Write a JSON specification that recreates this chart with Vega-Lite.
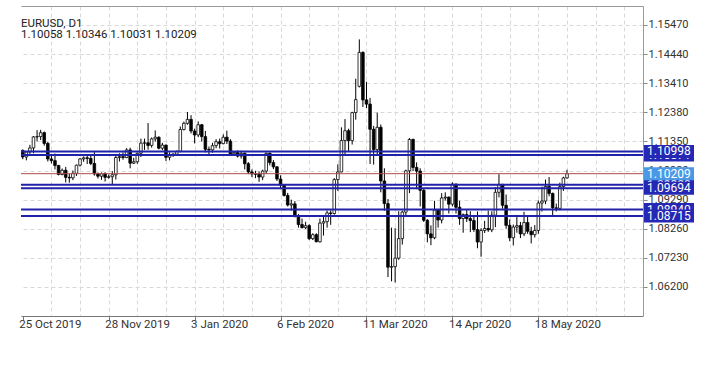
{
  "$schema": "https://vega.github.io/schema/vega-lite/v6.json",
  "width": 622,
  "height": 310,
  "autosize": {"type": "none"},
  "padding": {"left": 21, "top": 6, "right": 59, "bottom": 56},
  "background": "#ffffff",
  "config": {"view": {"stroke": null}, "axis": {"labelFont": "Roboto", "title": null}},
  "title": {
    "text": "EURUSD, D1",
    "subtitle": "1.10058 1.10346 1.10031 1.10209",
    "anchor": "start",
    "frame": "group",
    "orient": "top",
    "offset": -34,
    "font": "Roboto",
    "fontSize": 11.5,
    "fontWeight": "normal",
    "color": "#222222",
    "subtitleFont": "Roboto",
    "subtitleFontSize": 11.5,
    "subtitleColor": "#222222",
    "subtitlePadding": -1
  },
  "data": {"values": [
    {"i":0,"d":"2019-10-25","o":1.1103,"h":1.1107,"l":1.1072,"c":1.1080},
    {"i":1,"d":"2019-10-28","o":1.1080,"h":1.1101,"l":1.1068,"c":1.1098},
    {"i":2,"d":"2019-10-29","o":1.1098,"h":1.1123,"l":1.1091,"c":1.1112},
    {"i":3,"d":"2019-10-30","o":1.1112,"h":1.1154,"l":1.1093,"c":1.1151},
    {"i":4,"d":"2019-10-31","o":1.1151,"h":1.1175,"l":1.1135,"c":1.1152},
    {"i":5,"d":"2019-11-01","o":1.1152,"h":1.1176,"l":1.1140,"c":1.1166},
    {"i":6,"d":"2019-11-04","o":1.1166,"h":1.1170,"l":1.1120,"c":1.1128},
    {"i":7,"d":"2019-11-05","o":1.1128,"h":1.1133,"l":1.1064,"c":1.1073},
    {"i":8,"d":"2019-11-06","o":1.1073,"h":1.1089,"l":1.1057,"c":1.1067},
    {"i":9,"d":"2019-11-07","o":1.1067,"h":1.1092,"l":1.1036,"c":1.1050},
    {"i":10,"d":"2019-11-08","o":1.1050,"h":1.1052,"l":1.1015,"c":1.1018},
    {"i":11,"d":"2019-11-11","o":1.1018,"h":1.1039,"l":1.1015,"c":1.1033},
    {"i":12,"d":"2019-11-12","o":1.1033,"h":1.1045,"l":1.0990,"c":1.1008},
    {"i":13,"d":"2019-11-13","o":1.1008,"h":1.1020,"l":1.0989,"c":1.1006},
    {"i":14,"d":"2019-11-14","o":1.1006,"h":1.1032,"l":1.0998,"c":1.1022},
    {"i":15,"d":"2019-11-15","o":1.1022,"h":1.1053,"l":1.1013,"c":1.1051},
    {"i":16,"d":"2019-11-18","o":1.1051,"h":1.1076,"l":1.1046,"c":1.1073},
    {"i":17,"d":"2019-11-19","o":1.1073,"h":1.1082,"l":1.1063,"c":1.1077},
    {"i":18,"d":"2019-11-20","o":1.1077,"h":1.1090,"l":1.1055,"c":1.1075},
    {"i":19,"d":"2019-11-21","o":1.1075,"h":1.1085,"l":1.1051,"c":1.1057},
    {"i":20,"d":"2019-11-22","o":1.1057,"h":1.1097,"l":1.1014,"c":1.1020},
    {"i":21,"d":"2019-11-25","o":1.1020,"h":1.1025,"l":1.1004,"c":1.1012},
    {"i":22,"d":"2019-11-26","o":1.1012,"h":1.1025,"l":1.0999,"c":1.1021},
    {"i":23,"d":"2019-11-27","o":1.1021,"h":1.1026,"l":1.0993,"c":1.1008},
    {"i":24,"d":"2019-11-28","o":1.1008,"h":1.1018,"l":1.1003,"c":1.1010},
    {"i":25,"d":"2019-11-29","o":1.1010,"h":1.1030,"l":1.0981,"c":1.1017},
    {"i":26,"d":"2019-12-02","o":1.1017,"h":1.1090,"l":1.1000,"c":1.1078},
    {"i":27,"d":"2019-12-03","o":1.1078,"h":1.1093,"l":1.1064,"c":1.1081},
    {"i":28,"d":"2019-12-04","o":1.1081,"h":1.1096,"l":1.1070,"c":1.1078},
    {"i":29,"d":"2019-12-05","o":1.1078,"h":1.1111,"l":1.1076,"c":1.1105},
    {"i":30,"d":"2019-12-06","o":1.1105,"h":1.1113,"l":1.1040,"c":1.1058},
    {"i":31,"d":"2019-12-09","o":1.1058,"h":1.1077,"l":1.1055,"c":1.1063},
    {"i":32,"d":"2019-12-10","o":1.1063,"h":1.1096,"l":1.1056,"c":1.1093},
    {"i":33,"d":"2019-12-11","o":1.1093,"h":1.1145,"l":1.1080,"c":1.1129},
    {"i":34,"d":"2019-12-12","o":1.1129,"h":1.1145,"l":1.1105,"c":1.1130},
    {"i":35,"d":"2019-12-13","o":1.1130,"h":1.1200,"l":1.1106,"c":1.1121},
    {"i":36,"d":"2019-12-16","o":1.1121,"h":1.1149,"l":1.1113,"c":1.1144},
    {"i":37,"d":"2019-12-17","o":1.1144,"h":1.1174,"l":1.1134,"c":1.1150},
    {"i":38,"d":"2019-12-18","o":1.1150,"h":1.1153,"l":1.1107,"c":1.1111},
    {"i":39,"d":"2019-12-19","o":1.1111,"h":1.1130,"l":1.1104,"c":1.1122},
    {"i":40,"d":"2019-12-20","o":1.1122,"h":1.1124,"l":1.1066,"c":1.1079},
    {"i":41,"d":"2019-12-23","o":1.1079,"h":1.1096,"l":1.1068,"c":1.1089},
    {"i":42,"d":"2019-12-24","o":1.1089,"h":1.1093,"l":1.1080,"c":1.1090},
    {"i":43,"d":"2019-12-26","o":1.1090,"h":1.1103,"l":1.1086,"c":1.1100},
    {"i":44,"d":"2019-12-27","o":1.1100,"h":1.1188,"l":1.1096,"c":1.1177},
    {"i":45,"d":"2019-12-30","o":1.1177,"h":1.1205,"l":1.1174,"c":1.1199},
    {"i":46,"d":"2019-12-31","o":1.1199,"h":1.1239,"l":1.1194,"c":1.1213},
    {"i":47,"d":"2020-01-02","o":1.1213,"h":1.1228,"l":1.1163,"c":1.1172},
    {"i":48,"d":"2020-01-03","o":1.1172,"h":1.1180,"l":1.1128,"c":1.1158},
    {"i":49,"d":"2020-01-06","o":1.1158,"h":1.1206,"l":1.1150,"c":1.1194},
    {"i":50,"d":"2020-01-07","o":1.1194,"h":1.1197,"l":1.1135,"c":1.1152},
    {"i":51,"d":"2020-01-08","o":1.1152,"h":1.1172,"l":1.1096,"c":1.1107},
    {"i":52,"d":"2020-01-09","o":1.1107,"h":1.1117,"l":1.1088,"c":1.1105},
    {"i":53,"d":"2020-01-10","o":1.1105,"h":1.1130,"l":1.1095,"c":1.1120},
    {"i":54,"d":"2020-01-13","o":1.1120,"h":1.1143,"l":1.1111,"c":1.1134},
    {"i":55,"d":"2020-01-14","o":1.1134,"h":1.1145,"l":1.1110,"c":1.1127},
    {"i":56,"d":"2020-01-15","o":1.1127,"h":1.1160,"l":1.1125,"c":1.1150},
    {"i":57,"d":"2020-01-16","o":1.1150,"h":1.1173,"l":1.1126,"c":1.1136},
    {"i":58,"d":"2020-01-17","o":1.1136,"h":1.1143,"l":1.1085,"c":1.1091},
    {"i":59,"d":"2020-01-20","o":1.1091,"h":1.1100,"l":1.1088,"c":1.1096},
    {"i":60,"d":"2020-01-21","o":1.1096,"h":1.1103,"l":1.1078,"c":1.1083},
    {"i":61,"d":"2020-01-22","o":1.1083,"h":1.1102,"l":1.1074,"c":1.1093},
    {"i":62,"d":"2020-01-23","o":1.1093,"h":1.1096,"l":1.1036,"c":1.1056},
    {"i":63,"d":"2020-01-24","o":1.1056,"h":1.1062,"l":1.1019,"c":1.1027},
    {"i":64,"d":"2020-01-27","o":1.1027,"h":1.1036,"l":1.1009,"c":1.1020},
    {"i":65,"d":"2020-01-28","o":1.1020,"h":1.1031,"l":1.1005,"c":1.1019},
    {"i":66,"d":"2020-01-29","o":1.1019,"h":1.1029,"l":1.0992,"c":1.1009},
    {"i":67,"d":"2020-01-30","o":1.1009,"h":1.1035,"l":1.0998,"c":1.1030},
    {"i":68,"d":"2020-01-31","o":1.1030,"h":1.1096,"l":1.1020,"c":1.1093},
    {"i":69,"d":"2020-02-03","o":1.1093,"h":1.1096,"l":1.1050,"c":1.1060},
    {"i":70,"d":"2020-02-04","o":1.1060,"h":1.1069,"l":1.1037,"c":1.1045},
    {"i":71,"d":"2020-02-05","o":1.1045,"h":1.1047,"l":1.0995,"c":1.1002},
    {"i":72,"d":"2020-02-06","o":1.1002,"h":1.1015,"l":1.0966,"c":1.0980},
    {"i":73,"d":"2020-02-07","o":1.0980,"h":1.0982,"l":1.0940,"c":1.0944},
    {"i":74,"d":"2020-02-10","o":1.0944,"h":1.0953,"l":1.0905,"c":1.0910},
    {"i":75,"d":"2020-02-11","o":1.0910,"h":1.0929,"l":1.0890,"c":1.0914},
    {"i":76,"d":"2020-02-12","o":1.0914,"h":1.0924,"l":1.0866,"c":1.0873},
    {"i":77,"d":"2020-02-13","o":1.0873,"h":1.0878,"l":1.0830,"c":1.0841},
    {"i":78,"d":"2020-02-14","o":1.0841,"h":1.0862,"l":1.0827,"c":1.0830},
    {"i":79,"d":"2020-02-17","o":1.0830,"h":1.0851,"l":1.0825,"c":1.0837},
    {"i":80,"d":"2020-02-18","o":1.0837,"h":1.0842,"l":1.0786,"c":1.0791},
    {"i":81,"d":"2020-02-19","o":1.0791,"h":1.0810,"l":1.0786,"c":1.0805},
    {"i":82,"d":"2020-02-20","o":1.0805,"h":1.0810,"l":1.0778,"c":1.0780},
    {"i":83,"d":"2020-02-21","o":1.0780,"h":1.0862,"l":1.0777,"c":1.0846},
    {"i":84,"d":"2020-02-24","o":1.0846,"h":1.0871,"l":1.0802,"c":1.0851},
    {"i":85,"d":"2020-02-25","o":1.0851,"h":1.0890,"l":1.0830,"c":1.0882},
    {"i":86,"d":"2020-02-26","o":1.0882,"h":1.0891,"l":1.0840,"c":1.0880},
    {"i":87,"d":"2020-02-27","o":1.0880,"h":1.1005,"l":1.0876,"c":1.1000},
    {"i":88,"d":"2020-02-28","o":1.1000,"h":1.1054,"l":1.0960,"c":1.1027},
    {"i":89,"d":"2020-03-02","o":1.1027,"h":1.1185,"l":1.1026,"c":1.1138},
    {"i":90,"d":"2020-03-03","o":1.1138,"h":1.1214,"l":1.1087,"c":1.1173},
    {"i":91,"d":"2020-03-04","o":1.1173,"h":1.1180,"l":1.1100,"c":1.1138},
    {"i":92,"d":"2020-03-05","o":1.1138,"h":1.1240,"l":1.1124,"c":1.1237},
    {"i":93,"d":"2020-03-06","o":1.1237,"h":1.1357,"l":1.1212,"c":1.1283},
    {"i":94,"d":"2020-03-09","o":1.1330,"h":1.1496,"l":1.1326,"c":1.1450},
    {"i":95,"d":"2020-03-10","o":1.1450,"h":1.1454,"l":1.1257,"c":1.1282},
    {"i":96,"d":"2020-03-11","o":1.1282,"h":1.1346,"l":1.1253,"c":1.1267},
    {"i":97,"d":"2020-03-12","o":1.1267,"h":1.1289,"l":1.1055,"c":1.1178},
    {"i":98,"d":"2020-03-13","o":1.1178,"h":1.1190,"l":1.1053,"c":1.1106},
    {"i":99,"d":"2020-03-16","o":1.1106,"h":1.1237,"l":1.1090,"c":1.1185},
    {"i":100,"d":"2020-03-17","o":1.1185,"h":1.1195,"l":1.0955,"c":1.0995},
    {"i":101,"d":"2020-03-18","o":1.0995,"h":1.1040,"l":1.0890,"c":1.0915},
    {"i":102,"d":"2020-03-19","o":1.0915,"h":1.0931,"l":1.0655,"c":1.0690},
    {"i":103,"d":"2020-03-20","o":1.0690,"h":1.0830,"l":1.0640,"c":1.0692},
    {"i":104,"d":"2020-03-23","o":1.0692,"h":1.0828,"l":1.0636,"c":1.0722},
    {"i":105,"d":"2020-03-24","o":1.0722,"h":1.0888,"l":1.0716,"c":1.0791},
    {"i":106,"d":"2020-03-25","o":1.0791,"h":1.0890,"l":1.0770,"c":1.0885},
    {"i":107,"d":"2020-03-26","o":1.0885,"h":1.1035,"l":1.0870,"c":1.1031},
    {"i":108,"d":"2020-03-27","o":1.1031,"h":1.1147,"l":1.0952,"c":1.1142},
    {"i":109,"d":"2020-03-30","o":1.1142,"h":1.1145,"l":1.1030,"c":1.1043},
    {"i":110,"d":"2020-03-31","o":1.1043,"h":1.1061,"l":1.0966,"c":1.1030},
    {"i":111,"d":"2020-04-01","o":1.1030,"h":1.1040,"l":1.0905,"c":1.0962},
    {"i":112,"d":"2020-04-02","o":1.0962,"h":1.0970,"l":1.0850,"c":1.0856},
    {"i":113,"d":"2020-04-03","o":1.0856,"h":1.0860,"l":1.0778,"c":1.0808},
    {"i":114,"d":"2020-04-06","o":1.0808,"h":1.0838,"l":1.0768,"c":1.0794},
    {"i":115,"d":"2020-04-07","o":1.0794,"h":1.0925,"l":1.0789,"c":1.0892},
    {"i":116,"d":"2020-04-08","o":1.0892,"h":1.0894,"l":1.0830,"c":1.0857},
    {"i":117,"d":"2020-04-09","o":1.0857,"h":1.0952,"l":1.0845,"c":1.0935},
    {"i":118,"d":"2020-04-10","o":1.0935,"h":1.0955,"l":1.0926,"c":1.0938},
    {"i":119,"d":"2020-04-13","o":1.0938,"h":1.0940,"l":1.0880,"c":1.0913},
    {"i":120,"d":"2020-04-14","o":1.0913,"h":1.0990,"l":1.0905,"c":1.0984},
    {"i":121,"d":"2020-04-15","o":1.0984,"h":1.0986,"l":1.0880,"c":1.0902},
    {"i":122,"d":"2020-04-16","o":1.0902,"h":1.0925,"l":1.0840,"c":1.0862},
    {"i":123,"d":"2020-04-17","o":1.0862,"h":1.0880,"l":1.0812,"c":1.0876},
    {"i":124,"d":"2020-04-20","o":1.0876,"h":1.0892,"l":1.0850,"c":1.0862},
    {"i":125,"d":"2020-04-21","o":1.0862,"h":1.0888,"l":1.0814,"c":1.0855},
    {"i":126,"d":"2020-04-22","o":1.0855,"h":1.0871,"l":1.0815,"c":1.0823},
    {"i":127,"d":"2020-04-23","o":1.0823,"h":1.0887,"l":1.0757,"c":1.0779},
    {"i":128,"d":"2020-04-24","o":1.0779,"h":1.0828,"l":1.0727,"c":1.0820},
    {"i":129,"d":"2020-04-27","o":1.0820,"h":1.0854,"l":1.0811,"c":1.0827},
    {"i":130,"d":"2020-04-28","o":1.0827,"h":1.0890,"l":1.0815,"c":1.0822},
    {"i":131,"d":"2020-04-29","o":1.0822,"h":1.0888,"l":1.0814,"c":1.0874},
    {"i":132,"d":"2020-04-30","o":1.0874,"h":1.0973,"l":1.0832,"c":1.0955},
    {"i":133,"d":"2020-05-01","o":1.0955,"h":1.1019,"l":1.0937,"c":1.0983},
    {"i":134,"d":"2020-05-04","o":1.0983,"h":1.0985,"l":1.0897,"c":1.0909},
    {"i":135,"d":"2020-05-05","o":1.0909,"h":1.0947,"l":1.0826,"c":1.0838},
    {"i":136,"d":"2020-05-06","o":1.0838,"h":1.0859,"l":1.0782,"c":1.0794},
    {"i":137,"d":"2020-05-07","o":1.0794,"h":1.0841,"l":1.0767,"c":1.0832},
    {"i":138,"d":"2020-05-08","o":1.0832,"h":1.0875,"l":1.0812,"c":1.0837},
    {"i":139,"d":"2020-05-11","o":1.0837,"h":1.0850,"l":1.0793,"c":1.0808},
    {"i":140,"d":"2020-05-12","o":1.0808,"h":1.0886,"l":1.0800,"c":1.0848},
    {"i":141,"d":"2020-05-13","o":1.0848,"h":1.0869,"l":1.0808,"c":1.0817},
    {"i":142,"d":"2020-05-14","o":1.0817,"h":1.0833,"l":1.0774,"c":1.0805},
    {"i":143,"d":"2020-05-15","o":1.0805,"h":1.0839,"l":1.0795,"c":1.0820},
    {"i":144,"d":"2020-05-18","o":1.0820,"h":1.0926,"l":1.0808,"c":1.0917},
    {"i":145,"d":"2020-05-19","o":1.0917,"h":1.0975,"l":1.0887,"c":1.0924},
    {"i":146,"d":"2020-05-20","o":1.0924,"h":1.1000,"l":1.0913,"c":1.0976},
    {"i":147,"d":"2020-05-21","o":1.0976,"h":1.1009,"l":1.0941,"c":1.0951},
    {"i":148,"d":"2020-05-22","o":1.0951,"h":1.0954,"l":1.0871,"c":1.0900},
    {"i":149,"d":"2020-05-25","o":1.0900,"h":1.0915,"l":1.0887,"c":1.0898},
    {"i":150,"d":"2020-05-26","o":1.0898,"h":1.0989,"l":1.0891,"c":1.0975},
    {"i":151,"d":"2020-05-27","o":1.0975,"h":1.1010,"l":1.0960,"c":1.1006},
    {"i":152,"d":"2020-05-28","o":1.10058,"h":1.10346,"l":1.10031,"c":1.10209}
  ]},
  "datasets": {
    "levels": [
      {"level": 1.10998},
      {"level": 1.10871},
      {"level": 1.09820},
      {"level": 1.09694},
      {"level": 1.08940},
      {"level": 1.08715}
    ]
  },
  "resolve": {"axis": {"x": "independent", "y": "independent"}},
  "layer": [
    {
      "mark": {"type": "rule", "color": "#000000", "strokeWidth": 1, "clip": true},
      "encoding": {
        "x": {"field": "i", "type": "quantitative",
          "scale": {"domain": [0.907, 171.83], "nice": false, "zero": false},
          "axis": {"orient": "bottom", "values": [8,16,24,32,40,48,56,64,72,80,88,96,104,112,120,128,136,144,152,160,168],
            "grid": true, "gridColor": "#d8d8d8", "gridDash": [4,3], "labels": false, "ticks": false,
            "domain": true, "domainColor": "#777777", "title": null}},
        "y": {"field": "l", "type": "quantitative",
          "scale": {"domain": [1.05173, 1.16142], "nice": false, "zero": false},
          "axis": {"orient": "right", "values": [1.062,1.0723,1.0826,1.0929,1.1032,1.1135,1.1238,1.1341,1.1444,1.1547],
            "format": ".5f", "grid": true, "gridColor": "#d8d8d8", "gridDash": [4,3],
            "domainColor": "#999999", "tickColor": "#888888", "tickSize": 4, "labelPadding": 1,
            "labelFlush": false, "labelFont": "Roboto", "labelFontSize": 11, "labelColor": "#333333", "title": null}},
        "y2": {"field": "h"}
      }
    },
    {
      "transform": [{"filter": "datum.c >= datum.o"}],
      "mark": {"type": "bar", "size": 2.6, "fill": "#ffffff", "stroke": "#000000", "strokeWidth": 0.8, "clip": true},
      "encoding": {
        "x": {"field": "i", "type": "quantitative",
          "axis": {"orient": "bottom", "values": [0,24,48,72,96,120,144], "grid": false, "domain": false,
            "ticks": true, "tickSize": 4, "tickColor": "#777777",
            "labelExpr": "['25 Oct 2019','28 Nov 2019','3 Jan 2020','6 Feb 2020','11 Mar 2020','14 Apr 2020','18 May 2020'][round(datum.value/24)]",
            "labelAlign": "left", "labelBaseline": "top", "labelPadding": -2, "labelOffset": -4, "labelFlush": false, "labelBound": false,
            "labelFont": "Roboto", "labelFontSize": 11.5, "labelColor": "#333333", "labelOverlap": false, "title": null}},
        "y": {"field": "o", "type": "quantitative", "axis": null},
        "y2": {"field": "c"}
      }
    },
    {
      "transform": [{"filter": "datum.c < datum.o"}],
      "mark": {"type": "bar", "size": 2.6, "fill": "#000000", "stroke": "#000000", "strokeWidth": 0.8, "clip": true},
      "encoding": {
        "x": {"field": "i", "type": "quantitative",
          "axis": {"orient": "top", "labels": false, "ticks": false, "grid": false, "domain": true, "domainColor": "#999999", "title": null}},
        "y": {"field": "o", "type": "quantitative", "axis": null},
        "y2": {"field": "c"}
      }
    },
    {
      "data": {"name": "levels"},
      "mark": {"type": "rule", "color": "#2022a8", "strokeWidth": 2},
      "encoding": {"y": {"field": "level", "type": "quantitative", "axis": null}}
    },
    {
      "transform": [{"filter": "datum.i == 152"}],
      "mark": {"type": "rule", "color": "#b04a4a", "strokeWidth": 1},
      "encoding": {"y": {"field": "c", "type": "quantitative", "axis": null}}
    },
    {
      "data": {"name": "levels"},
      "transform": [{"filter": {"field": "level", "oneOf": [1.10871, 1.09820, 1.08940]}}],
      "mark": {"type": "rect", "fill": "#2428b4", "xOffset": 1, "x2Offset": 51, "yOffset": -6.5, "y2Offset": 6.5, "clip": false},
      "encoding": {
        "x": {"value": "width"}, "x2": {"value": "width"},
        "y": {"field": "level", "type": "quantitative", "axis": null}, "y2": {"field": "level"}
      }
    },
    {
      "data": {"name": "levels"},
      "transform": [{"filter": {"field": "level", "oneOf": [1.10871, 1.09820, 1.08940]}}],
      "mark": {"type": "text", "align": "left", "baseline": "middle", "dx": 4, "fill": "#ffffff", "font": "Roboto", "fontSize": 12, "clip": false},
      "encoding": {
        "x": {"value": "width"},
        "y": {"field": "level", "type": "quantitative", "axis": null},
        "text": {"field": "level", "type": "quantitative", "format": ".5f"}
      }
    },
    {
      "data": {"name": "levels"},
      "transform": [{"filter": {"field": "level", "oneOf": [1.10998, 1.09694, 1.08715]}}],
      "mark": {"type": "rect", "fill": "#2428b4", "xOffset": 1, "x2Offset": 51, "yOffset": -6.5, "y2Offset": 6.5, "clip": false},
      "encoding": {
        "x": {"value": "width"}, "x2": {"value": "width"},
        "y": {"field": "level", "type": "quantitative", "axis": null}, "y2": {"field": "level"}
      }
    },
    {
      "data": {"name": "levels"},
      "transform": [{"filter": {"field": "level", "oneOf": [1.10998, 1.09694, 1.08715]}}],
      "mark": {"type": "text", "align": "left", "baseline": "middle", "dx": 4, "fill": "#ffffff", "font": "Roboto", "fontSize": 12, "clip": false},
      "encoding": {
        "x": {"value": "width"},
        "y": {"field": "level", "type": "quantitative", "axis": null},
        "text": {"field": "level", "type": "quantitative", "format": ".5f"}
      }
    },
    {
      "transform": [{"filter": "datum.i == 152"}],
      "mark": {"type": "rect", "fill": "#4a98e6", "xOffset": 1, "x2Offset": 51, "yOffset": -6.5, "y2Offset": 6.5, "clip": false},
      "encoding": {
        "x": {"value": "width"}, "x2": {"value": "width"},
        "y": {"field": "c", "type": "quantitative", "axis": null}, "y2": {"field": "c"}
      }
    },
    {
      "transform": [{"filter": "datum.i == 152"}],
      "mark": {"type": "text", "align": "left", "baseline": "middle", "dx": 4, "fill": "#ffffff", "font": "Roboto", "fontSize": 12, "clip": false},
      "encoding": {
        "x": {"value": "width"},
        "y": {"field": "c", "type": "quantitative", "axis": null},
        "text": {"field": "c", "type": "quantitative", "format": ".5f"}
      }
    }
  ]
}
